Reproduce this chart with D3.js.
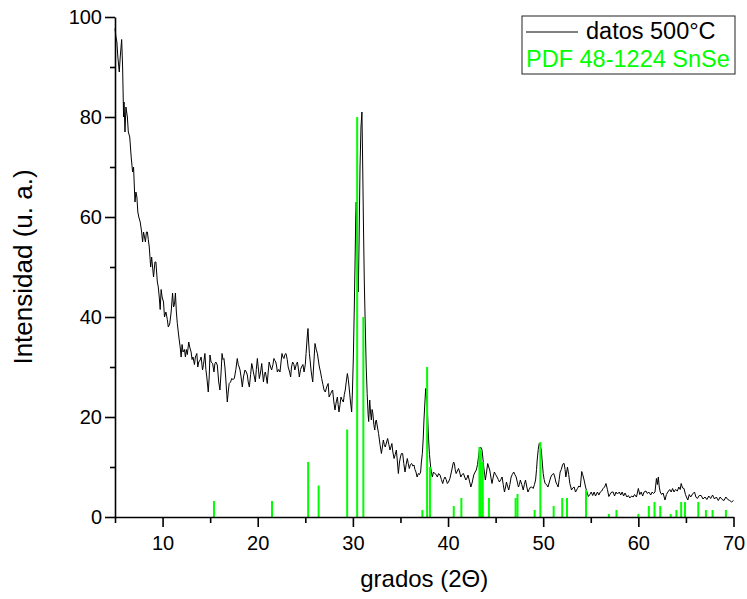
<!DOCTYPE html>
<html>
<head>
<meta charset="utf-8">
<script src="https://cdn.jsdelivr.net/npm/d3@7"></script>
<style>
  body { margin: 0; background: #fff; }
  svg { display: block; font-family: "Liberation Sans", Arial, sans-serif; }
</style>
</head>
<body>
<div id="chart"></div>
<script>
// measured XRD pattern (2-theta in degrees, intensity in a.u.)
const twoTheta = [
  5.0,5.1,5.2,5.3,5.45,5.55,5.7,5.8,5.9,5.95,6.05,6.15,6.3,6.4,6.55,6.7,6.85,6.95,7.1,7.2,
  7.3,7.4,7.5,7.65,7.8,7.9,8.0,8.1,8.2,8.3,8.4,8.5,8.6,8.75,8.85,8.95,9.05,9.2,9.3,9.45,
  9.55,9.65,9.75,9.85,9.95,10.1,10.2,10.35,10.5,10.6,10.75,10.9,11.05,11.15,11.25,11.35,11.45,11.55,11.65,11.75,
  11.85,11.95,12.05,12.15,12.3,12.4,12.5,12.6,12.75,12.85,13.0,13.1,13.2,13.35,13.45,13.6,13.7,13.8,13.95,14.05,
  14.2,14.3,14.45,14.55,14.65,14.8,14.9,14.98,15.1,15.26,15.4,15.5,15.6,15.75,15.9,16.03,16.15,16.25,16.35,16.45,
  16.55,16.63,16.75,16.8,16.9,17.0,17.15,17.26,17.4,17.54,17.7,17.85,17.95,18.05,18.14,18.25,18.38,18.5,18.66,18.8,
  18.91,19.0,19.12,19.25,19.37,19.45,19.54,19.65,19.75,19.85,19.96,20.05,20.17,20.3,20.42,20.5,20.6,20.7,20.8,20.9,
  21.0,21.1,21.2,21.35,21.46,21.6,21.7,21.8,21.9,22.0,22.06,22.2,22.34,22.45,22.55,22.65,22.76,22.85,22.97,23.1,
  23.2,23.35,23.46,23.55,23.67,23.8,23.9,24.05,24.17,24.25,24.37,24.5,24.6,24.75,24.87,25.0,25.08,25.2,25.28,25.35,
  25.43,25.52,25.6,25.7,25.78,25.9,26.02,26.15,26.27,26.4,26.48,26.6,26.72,26.85,26.97,27.1,27.25,27.4,27.5,27.67,
  27.8,27.87,28.0,28.12,28.25,28.37,28.45,28.54,28.65,28.75,28.85,29.0,29.1,29.2,29.3,29.42,29.52,29.63,29.75,29.87,
  29.95,30.05,30.15,30.22,30.3,30.35,30.42,30.5,30.57,30.65,30.75,30.85,30.95,31.02,31.1,31.2,31.28,31.4,31.5,31.6,
  31.66,31.77,31.85,31.94,32.02,32.1,32.2,32.3,32.38,32.46,32.58,32.7,32.85,33.0,33.1,33.2,33.3,33.4,33.55,33.65,
  33.78,33.9,34.0,34.1,34.2,34.33,34.45,34.57,34.68,34.78,34.9,35.0,35.1,35.23,35.35,35.48,35.6,35.72,35.82,35.93,
  36.05,36.18,36.3,36.42,36.52,36.63,36.75,36.88,37.0,37.12,37.2,37.3,37.4,37.47,37.57,37.65,37.73,37.82,37.9,37.96,
  38.05,38.17,38.25,38.35,38.47,38.6,38.75,38.88,39.0,39.16,39.3,39.44,39.55,39.68,39.8,39.93,40.05,40.2,40.35,40.5,
  40.58,40.67,40.75,40.85,40.98,41.1,41.22,41.34,41.48,41.62,41.75,41.87,42.0,42.1,42.25,42.4,42.55,42.7,42.85,42.97,
  43.1,43.2,43.3,43.4,43.5,43.57,43.65,43.75,43.85,43.92,44.05,44.17,44.28,44.38,44.5,44.62,44.75,44.87,45.0,45.15,
  45.28,45.4,45.55,45.68,45.8,45.93,46.05,46.14,46.25,46.38,46.5,46.63,46.75,46.9,47.02,47.16,47.28,47.4,47.5,47.6,
  47.75,47.9,48.02,48.14,48.28,48.4,48.52,48.67,48.8,48.95,49.08,49.2,49.3,49.37,49.48,49.58,49.7,49.8,49.9,50.0,
  50.1,50.2,50.35,50.5,50.65,50.8,50.95,51.1,51.22,51.33,51.45,51.57,51.68,51.78,51.9,52.03,52.12,52.2,52.3,52.38,
  52.47,52.55,52.68,52.8,52.9,52.97,53.1,53.25,53.4,53.6,53.75,53.9,54.05,54.15,54.3,54.45,54.6,54.75,54.9,55.05,
  55.2,55.35,55.5,55.7,55.85,56.0,56.15,56.3,56.45,56.6,56.75,56.9,57.05,57.2,57.35,57.5,57.65,57.8,58.0,58.15,
  58.3,58.45,58.6,58.8,58.95,59.1,59.3,59.45,59.6,59.8,60.0,60.15,60.3,60.45,60.6,60.8,60.95,61.1,61.3,61.45,
  61.6,61.75,61.9,62.0,62.1,62.2,62.3,62.45,62.6,62.8,62.95,63.1,63.3,63.45,63.6,63.75,63.9,64.1,64.25,64.4,
  64.5,64.65,64.8,64.95,65.1,65.2,65.35,65.5,65.7,65.9,66.05,66.2,66.4,66.6,66.8,67.0,67.2,67.4,67.6,67.8,
  68.0,68.2,68.4,68.6,68.8,69.0,69.2,69.4,69.6,69.8,70.0
];
const intensity = [
  97.7,96,95,92,89,92,95.5,90,80,83,77,82,80,77,76,72,69,70,63,65,
  64,61,60,59,57,55,57,56,55,57,57,55.5,54,50,52,50,48,51,51,47,
  46,44,41.5,45.5,44,43,40,41,39.5,38,38.6,41,44.8,42,42.5,44.8,41,38.7,37,35.4,
  34,32,34.5,33,33.5,32,33.5,32.5,35,34,33,31.5,32,30.5,32,32.7,30,31,31.4,32,
  29.4,30.5,32.7,29.5,28,25,28,32.4,31,30.7,29,30.7,31,30.4,27,25.4,29,32.7,31.5,31.7,
  30,28,24.5,23,25,26.7,27,27.7,27.5,27.7,29.5,31.7,30.5,30,29.4,28,26,28,29.4,29,
  28.4,27,26,28.5,30.7,30,29,28,27,29.5,31.7,30,27.7,29,30.7,29,27,28.5,29,28,
  26.7,29,31,30,29.4,30.5,31.7,31.3,31,30,29,29.5,29,31,32.7,32,31.7,32.5,32.7,31.5,
  30,29,28,30,31,30.5,29.4,30.5,31,30,28,29.5,30,30.5,29,30.5,32.7,36,37.7,35,
  32.7,31,29.4,28,27,31,34.7,33.5,32.7,31,30,29,27.7,26.5,25.4,25,26,26.7,24,24.7,
  25.2,25.4,23,21.4,23,24,22.5,21,22.5,24,23.5,23,24.5,25.4,27,28.7,27.5,25.4,23,21,
  25,32,42,50,60,63,58,50,45,55,70,78,81,72,60,47,40,30,24.7,20.5,
  19.1,23.4,21,19.4,21.5,20.7,18.5,17.4,19,19.4,18,16.7,14.5,12.7,14,15.4,14.5,14,15,15.7,
  14.5,13.4,14,14.7,13,11.7,12.5,13.4,11,8.7,11,12,12.7,12.7,10.7,9,10.5,11.7,10.7,9.7,
  10.5,10.7,10.2,10.4,9.5,9,8,8.7,8.5,9,11,12.7,16,19.4,23,25.7,24,22,18,15.4,
  12.5,10,9,8,9,8.7,8.5,8,8.7,8.4,7.5,6.7,7.5,8,7.5,6.7,7,7.7,9,10.4,
  11,10.7,9.5,8.7,9.2,9.7,9,8,8.5,8.7,8,7.4,7.8,8.4,7.2,6,7,8.4,9,9.4,
  10.5,12,13.5,14,13.8,13.4,12,10,8.5,7.4,9,10.7,10,9.4,8,6.7,8,9,8.5,8,
  7.5,7,7.5,8,6.5,5,6,7,6.2,5.4,6.5,8,8.5,9,8.5,8,7,6,6.5,7.4,
  6.5,5.4,6.5,7.4,6,5,5.5,6,6,5.7,6.5,7.4,9.5,11.4,13.5,14.7,14.2,13.4,11,8.7,
  7.5,6.7,6.5,6,7,8,8.5,8.7,8,7,6.5,6,7.5,9,9.5,10.4,10.7,10.7,9.5,8,
  9,10,8.5,6.7,6,5.4,5.8,6,5,5.7,6.2,6,9.1,8.5,7.4,6,5,4.1,4.5,5,
  4.3,5,4.2,5,4.4,5,5.2,5.7,6,6.7,5.5,4.1,4.6,5,5,4.2,5,4.6,5,4.4,
  5,4.2,4.8,4,4.3,3.8,4.2,4,4.5,4,5.7,4.5,5,4.2,5,5.2,4.7,5,4.4,5,
  4.7,5,7.7,6.5,8,6,5,4.5,4.8,3.4,4.5,5,5.5,5,5.7,5,5.5,5.2,6,5.5,
  6.7,5.8,5.7,4.5,3.8,3.4,4.5,4,4.6,5,4,3.7,4.3,4.3,3.6,4,3.5,4.2,3.7,4.4,
  3.6,4,3.3,4,3.5,3.3,4,3.5,3.3,3,3.3
];

// reference pattern PDF 48-1224 (SnSe)
const refTheta = [15.4,21.5,25.3,26.4,29.4,30.45,31.1,37.3,37.8,38.1,40.6,41.4,43.3,43.45,43.65,44.3,47.1,47.3,49.1,49.7,51.1,52.0,52.5,54.5,56.9,57.7,60.0,61.1,61.7,62.3,63.4,64.0,64.5,64.9,66.3,67.1,67.8,69.2];
const refInt   = [3.2,3.2,11,6.3,17.5,80,40,1.4,30,10,2.2,3.8,14,13.5,11,3.8,3.8,4.6,1.4,15,2.2,3.8,3.8,5.4,0.6,1.4,0.6,2.2,3,2.2,0.6,1.4,3,3,3,1.4,1.4,1.4];

const xMajor = [10,20,30,40,50,60,70];
const xMinor = [5,15,25,35,45,55,65];
const yMajor = [0,20,40,60,80,100];
const yMinor = [10,30,50,70,90];

const seriesNames = ['datos 500°C', 'PDF 48-1224 SnSe'];

const W = 747, H = 599;
const plot = { left: 115, right: 733.5, top: 17, bottom: 517 };

let svg = d3.select('#chart')
            .append('svg')
            .attr('width', W)
            .attr('height', H);

let x = d3.scaleLinear().domain([5, 70]).range([plot.left, plot.right]);
let y = d3.scaleLinear().domain([0, 100]).range([plot.bottom, plot.top]);

let data = twoTheta.map((t, i) => ({ t: t, v: intensity[i] }));
let refs = refTheta.map((t, i) => ({ t: t, v: refInt[i] }));

// measured curve
let line = d3.line().x(d => x(d.t)).y(d => y(d.v));
svg.append('path')
   .datum(data)
   .attr('d', line)
   .attr('fill', 'none')
   .attr('stroke', '#000')
   .attr('stroke-width', 1)
   .attr('stroke-linejoin', 'round');

// reference sticks
svg.append('g')
   .selectAll('line')
   .data(refs)
   .enter()
   .append('line')
   .attr('x1', d => x(d.t))
   .attr('x2', d => x(d.t))
   .attr('y1', y(0))
   .attr('y2', d => y(d.v))
   .attr('stroke', '#00ff00')
   .attr('stroke-width', 2);

// axes
function styleAxis(g) {
  g.select('.domain').attr('stroke', '#000').attr('stroke-width', 1.6);
  g.selectAll('.tick line').attr('stroke', '#000').attr('stroke-width', 1.6);
  g.selectAll('.tick text').attr('fill', '#000').style('font-size', '20px')
   .style('font-family', '"Liberation Sans", Arial, sans-serif');
}

svg.append('g')
   .attr('transform', `translate(0,${plot.bottom})`)
   .call(d3.axisBottom(x).tickValues(xMinor).tickSize(6).tickSizeOuter(0).tickFormat(''))
   .call(g => g.select('.domain').remove())
   .call(styleAxis);

svg.append('g')
   .attr('transform', `translate(${plot.left},0)`)
   .call(d3.axisLeft(y).tickValues(yMinor).tickSize(5).tickSizeOuter(0).tickFormat(''))
   .call(g => g.select('.domain').remove())
   .call(styleAxis);

svg.append('g')
   .attr('transform', `translate(0,${plot.bottom})`)
   .call(d3.axisBottom(x).tickValues(xMajor).tickSize(10).tickPadding(9).tickSizeOuter(0))
   .call(styleAxis);

svg.append('g')
   .attr('transform', `translate(${plot.left},0)`)
   .call(d3.axisLeft(y).tickValues(yMajor).tickSize(10).tickPadding(3).tickSizeOuter(0))
   .call(styleAxis);

// axis titles
svg.append('text')
   .attr('x', (plot.left + plot.right) / 2)
   .attr('y', 587)
   .attr('text-anchor', 'middle')
   .style('font-size', '24px')
   .text('grados (2Θ)');

svg.append('text')
   .attr('transform', `translate(32,${(plot.top + plot.bottom) / 2}) rotate(-90)`)
   .attr('text-anchor', 'middle')
   .style('font-size', '26px')
   .text('Intensidad (u. a.)');

// legend
let legend = svg.append('g').attr('transform', 'translate(522,16)');
legend.append('rect')
      .attr('width', 213).attr('height', 58)
      .attr('fill', '#fff').attr('stroke', '#222').attr('stroke-width', 1);
legend.append('line')
      .attr('x1', 4).attr('x2', 56).attr('y1', 16).attr('y2', 16)
      .attr('stroke', '#000').attr('stroke-width', 1);
legend.append('text')
      .attr('x', 64).attr('y', 23)
      .style('font-size', '23.5px')
      .text(seriesNames[0]);
legend.append('text')
      .attr('x', 4).attr('y', 51)
      .style('font-size', '23.5px')
      .attr('fill', '#00ff00')
      .text(seriesNames[1]);
</script>
</body>
</html>
